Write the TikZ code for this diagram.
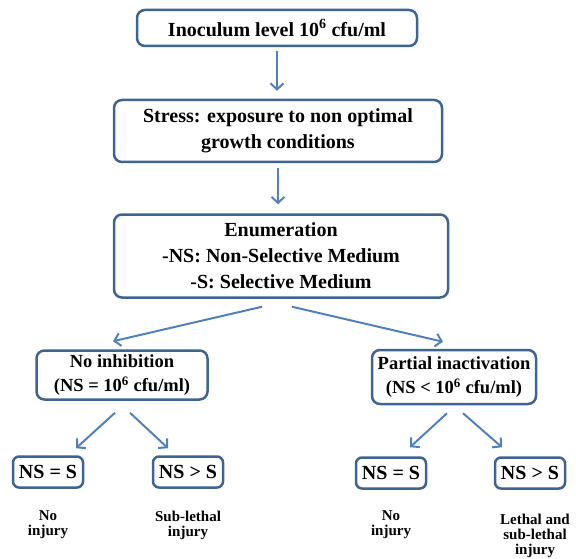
\documentclass[tikz,border=0pt]{standalone}
\usepackage{fontspec}
\setmainfont{Liberation Serif}
\usetikzlibrary{arrows.meta}
\definecolor{boxline}{RGB}{62,100,146}
\definecolor{arrowblue}{RGB}{79,129,189}

\begin{document}
\begin{tikzpicture}[x=1pt,y=1pt,
  box/.style={draw=boxline,line width=2.5pt,rounded corners=8pt,align=center,
    font=\fontsize{20}{26}\selectfont\bfseries,inner sep=2pt},
  midbox/.style={box,font=\fontsize{18.5}{24}\selectfont\bfseries},
  smallbox/.style={box,rounded corners=6pt,minimum width=70pt,minimum height=31pt},
  note/.style={align=center,font=\fontsize{15}{15}\selectfont\bfseries},
  arr/.style={draw=arrowblue,line width=2pt,-{Straight Barb[length=6pt,width=13pt]}}]
\useasboundingbox (0,0) rectangle (576,-559);
% top chain
\node[box,minimum width=280pt,minimum height=36pt] (inoc) at (277,-28) {Inoculum level 10\textsuperscript{6} cfu/ml};
\node[box,minimum width=328pt,minimum height=62pt] (stress) at (278,-131) {Stress: exposure to non optimal\\growth conditions};
\node[box,minimum width=334pt,minimum height=83pt] (enum) at (281,-256) {Enumeration\\-NS: Non-Selective Medium\\-S: Selective Medium};
\draw[arr,shorten <=4pt,shorten >=8pt] (inoc.south) -- (inoc.south |- stress.north);
\draw[arr,shorten <=5pt,shorten >=9pt] (stress.south) -- (stress.south |- enum.north);
% second level
\node[midbox,minimum width=171pt,minimum height=49pt] (noinh) at (122,-375) {No inhibition\\(NS = 10\textsuperscript{6} cfu/ml)};
\node[midbox,minimum width=164pt,minimum height=54pt] (partial) at (454,-377) {Partial inactivation\\(NS < 10\textsuperscript{6} cfu/ml)};
\draw[arr] ([xshift=-19pt,yshift=-8pt]enum.south) -- ([xshift=-9pt,yshift=8pt]noinh.north);
\draw[arr] ([xshift=11pt,yshift=-8pt]enum.south) -- ([xshift=-11pt,yshift=7pt]partial.north);
% results
\node[smallbox] (nseqA) at (48,-472) {NS = S};
\node[smallbox] (nsgtA) at (188,-472) {NS > S};
\node[smallbox] (nseqB) at (391,-473) {NS = S};
\node[smallbox] (nsgtB) at (530,-473) {NS > S};
\draw[arr] ([xshift=-7pt,yshift=-12pt]noinh.south) -- ([xshift=28pt,yshift=7pt]nseqA.north);
\draw[arr] ([xshift=8pt,yshift=-12pt]noinh.south) -- ([xshift=-20pt,yshift=7pt]nsgtA.north);
\draw[arr] ([xshift=-7pt,yshift=-8pt]partial.south) -- ([xshift=19pt,yshift=9pt]nseqB.north);
\draw[arr] ([xshift=9pt,yshift=-8pt]partial.south) -- ([xshift=-28pt,yshift=9pt]nsgtB.north);
% outcomes
\node[note] (outA) at (48,-525) {No\\injury};
\node[note] (outB) at (188,-525) {Sub-lethal\\injury};
\node[note] (outC) at (391,-525) {No\\injury};
\node[note] (outD) at (535,-536) {Lethal and\\sub-lethal\\injury};
\end{tikzpicture}
\end{document}
